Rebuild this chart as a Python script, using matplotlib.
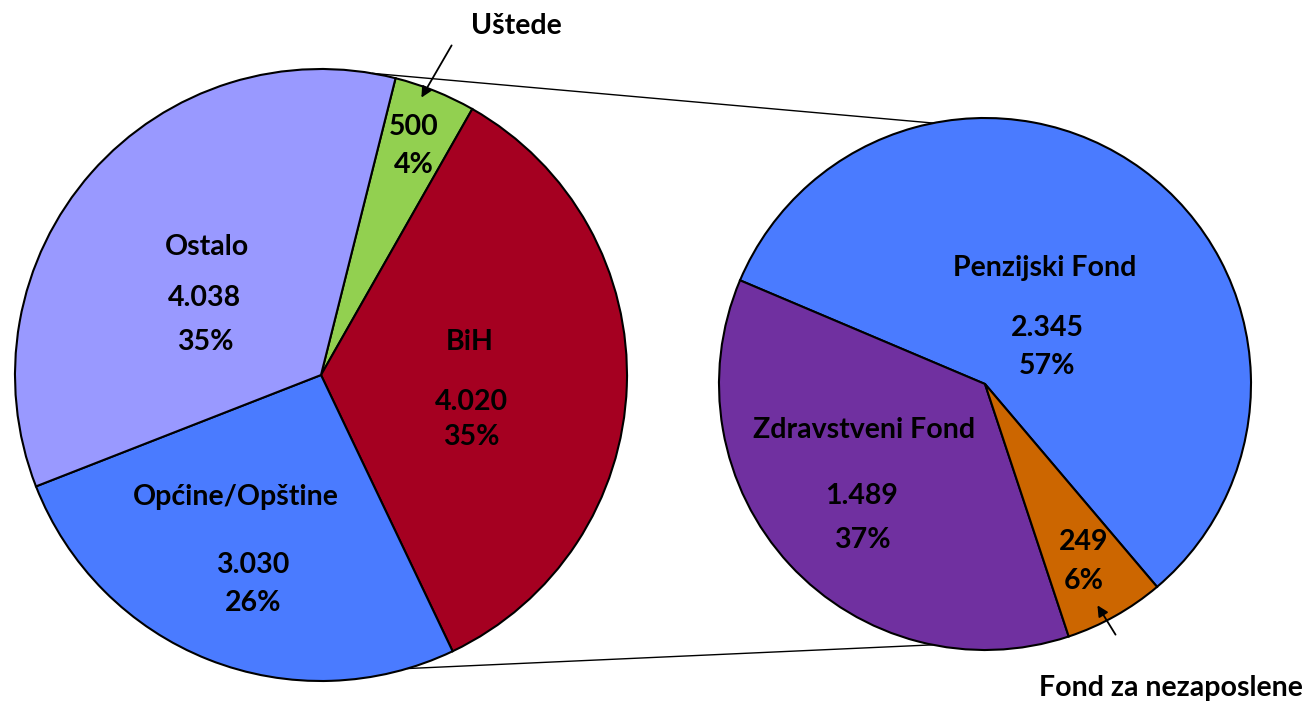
import matplotlib
matplotlib.use("Agg")
import matplotlib.pyplot as plt
import numpy as np

# ---- data ----
left_labels = ["Uštede", "BiH", "Općine/Opštine", "Ostalo"]
left_values = [500, 4020, 3030, 4038]
left_pcts = [4, 35, 26, 35]
right_labels = ["Penzijski Fond", "Zdravstveni Fond", "Fond za nezaposlene"]
right_values = [2345, 1489, 249]
right_pcts = [57, 37, 6]

left_colors = ["#92D050", "#A50021", "#4A7BFF", "#9999FF"]
right_colors = ["#4A7BFF", "#7030A0", "#CC6600"]

W, H = 1315, 703
plt.rcParams['font.family'] = ['Lato', 'DejaVu Sans']

fig = plt.figure(figsize=(W / 100, H / 100), dpi=100)
ax = fig.add_axes([0, 0, 1, 1])

L_C = (321, H - 375); L_R = 306
R_C = (985, H - 384); R_R = 266

wp = dict(edgecolor="black", linewidth=1.5)
ax.pie(left_values, colors=left_colors, center=L_C, radius=L_R,
       startangle=75.9, counterclock=False, wedgeprops=wp, frame=True)
ax.pie(right_values, colors=right_colors, center=R_C, radius=R_R,
       startangle=-49.7, counterclock=True, wedgeprops=wp, frame=True)

ax.set_xlim(0, W)
ax.set_ylim(0, H)
ax.set_aspect("equal")
ax.axis("off")

def on_circle(c, r, ang):
    a = np.deg2rad(ang)
    return c[0] + r * np.cos(a), c[1] + r * np.sin(a)

# connector lines
for la, ra in [(80.3, 101.2), (-73.6, -101.3)]:
    p1 = on_circle(L_C, L_R, la)
    p2 = on_circle(R_C, R_R, ra)
    ax.plot([p1[0], p2[0]], [p1[1], p2[1]], color="black", lw=1.0, zorder=0.5)

def fmt(v):
    return f"{v:,}".replace(",", ".")

fs = 20.5
tk = dict(fontsize=fs, fontweight="bold", ha="center", va="center", color="black")

# label layout (pixel coordinates: name, value, percent)
left_pos = {
    "Uštede": (None, (414, 127), (414, 165)),
    "BiH": ((470, 342), (471, 402), (471, 437)),
    "Općine/Opštine": ((236, 497), (253, 565), (253, 603)),
    "Ostalo": ((207, 247), (204, 298), (205, 342)),
}
right_pos = {
    "Penzijski Fond": ((1045, 268), (1047, 328), (1047, 366)),
    "Zdravstveni Fond": ((864, 430), (862, 496), (862, 540)),
    "Fond za nezaposlene": (None, (1084, 542), (1084, 581)),
}

for lab, v, p in zip(left_labels, left_values, left_pcts):
    n, vp, pp = left_pos[lab]
    if n:
        ax.text(n[0], H - n[1], lab, **tk)
    ax.text(vp[0], H - vp[1], fmt(v), **tk)
    ax.text(pp[0], H - pp[1], f"{p}%", **tk)

for lab, v, p in zip(right_labels, right_values, right_pcts):
    n, vp, pp = right_pos[lab]
    if n:
        ax.text(n[0], H - n[1], lab, **tk)
    ax.text(vp[0], H - vp[1], fmt(v), **tk)
    ax.text(pp[0], H - pp[1], f"{p}%", **tk)

# callouts with arrows
ax.text(516, H - 26, left_labels[0], **tk)
ax.annotate("", xy=(420, H - 100), xytext=(453, H - 43),
            arrowprops=dict(arrowstyle="-|>", color="black", lw=1.3, mutation_scale=16))
ax.text(1171, H - 688, right_labels[2], **tk)
ax.annotate("", xy=(1096, H - 603), xytext=(1117, H - 637),
            arrowprops=dict(arrowstyle="-|>", color="black", lw=1.3, mutation_scale=16))

fig.savefig("out.png", dpi=100)
